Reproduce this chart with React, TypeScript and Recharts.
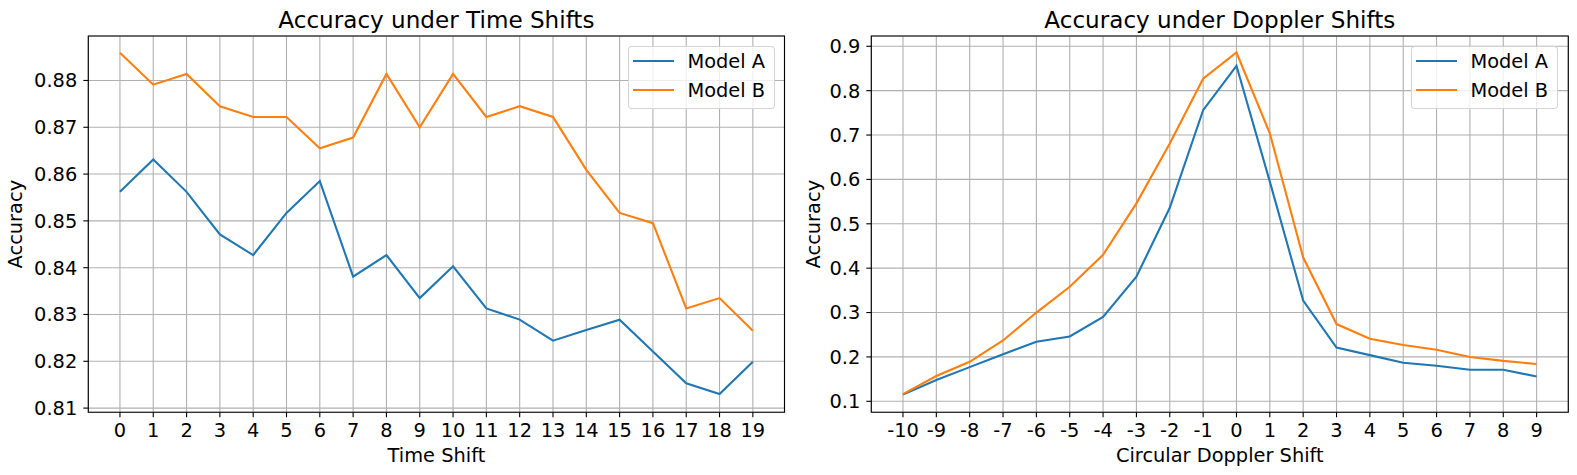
import React from 'react';
import { LineChart, Line, XAxis, YAxis, CartesianGrid, ReferenceArea, Legend, Label } from 'recharts';

const FONT = '"DejaVu Sans", sans-serif';
const BLUE = '#1f77b4';
const ORANGE = '#ff7f0e';
const TICK_FS = 19.4;
const TITLE_FS = 23.1;

// ---- Left panel: time shifts ----
const timeShifts = [0, 1, 2, 3, 4, 5, 6, 7, 8, 9, 10, 11, 12, 13, 14, 15, 16, 17, 18, 19];
const timeModelA = [0.8562, 0.8631, 0.8562, 0.8471, 0.8427, 0.8517, 0.8585, 0.8381, 0.8427, 0.8335,
  0.8403, 0.8313, 0.8289, 0.8244, 0.8267, 0.8289, 0.8221, 0.8153, 0.8130, 0.8199];
const timeModelB = [0.8859, 0.8791, 0.8814, 0.8745, 0.8722, 0.8722, 0.8655, 0.8678, 0.8814, 0.8700,
  0.8814, 0.8722, 0.8745, 0.8722, 0.8609, 0.8517, 0.8495, 0.8313, 0.8335, 0.8265];
const timeYTicks = [0.81, 0.82, 0.83, 0.84, 0.85, 0.86, 0.87, 0.88];

// ---- Right panel: Doppler shifts ----
const dopplerShifts = [-10, -9, -8, -7, -6, -5, -4, -3, -2, -1, 0, 1, 2, 3, 4, 5, 6, 7, 8, 9];
const dopplerModelA = [0.115, 0.148, 0.177, 0.206, 0.234, 0.246, 0.290, 0.381, 0.536, 0.756,
  0.856, 0.595, 0.327, 0.221, 0.204, 0.187, 0.180, 0.171, 0.171, 0.156];
const dopplerModelB = [0.116, 0.157, 0.189, 0.237, 0.300, 0.358, 0.430, 0.546, 0.681, 0.827,
  0.886, 0.704, 0.424, 0.274, 0.241, 0.227, 0.216, 0.200, 0.191, 0.184];
const dopplerYTicks = [0.1, 0.2, 0.3, 0.4, 0.5, 0.6, 0.7, 0.8, 0.9];

const seriesNames = ['Model A', 'Model B'];

const timeData = timeShifts.map((x, i) => ({ x, a: timeModelA[i], b: timeModelB[i] }));
const dopplerData = dopplerShifts.map((x, i) => ({ x, a: dopplerModelA[i], b: dopplerModelB[i] }));

const LegendBox = (props: any) => {
  const items = props.payload || [];
  return (
    <div
      style={{
        boxSizing: 'border-box',
        width: '100%',
        height: '100%',
        background: 'rgba(255,255,255,0.8)',
        border: '1.1px solid rgba(204,204,204,0.85)',
        borderRadius: 4,
      }}
    >
      {items.map((it: any) => (
        <div key={it.value} style={{ display: 'flex', alignItems: 'center', height: 29 }}>
          <div style={{ marginLeft: 4.6, width: 40.7, height: 2.1, background: it.color }} />
          <span
            style={{
              marginLeft: 13.5,
              fontSize: TICK_FS,
              fontFamily: FONT,
              color: '#000',
              lineHeight: '29px',
              whiteSpace: 'nowrap',
            }}
          >
            {it.value}
          </span>
        </div>
      ))}
    </div>
  );
};

type PanelProps = {
  data: any[];
  xTicks: number[];
  xDomain: [number, number];
  yTicks: number[];
  yDomain: [number, number];
  yDigits: number;
  width: number;
  yAxisWidth: number;
  rightMargin: number;
  title: string;
  xLabel: string;
  yLabelX: number;
  legendLeft: number;
};

const HEIGHT = 475;
const PLOT_TOP = 36;
const PLOT_BOTTOM = 412.3;

function Panel(p: PanelProps) {
  const plotLeft = p.yAxisWidth;
  const plotRight = p.width - p.rightMargin;
  const cx = (plotLeft + plotRight) / 2;
  const cy = (PLOT_TOP + PLOT_BOTTOM) / 2;
  const tickStyle = { fill: '#000', fontSize: TICK_FS, fontFamily: FONT };
  return (
    <LineChart
      width={p.width}
      height={HEIGHT}
      data={p.data}
      margin={{ top: PLOT_TOP, right: p.rightMargin, bottom: 0, left: 0 }}
    >
      <CartesianGrid stroke="#b0b0b0" strokeWidth={1.1} />
      <XAxis
        type="number"
        dataKey="x"
        domain={p.xDomain}
        ticks={p.xTicks}
        interval={0}
        allowDataOverflow
        height={HEIGHT - PLOT_BOTTOM}
        axisLine={false}
        tickLine={{ stroke: '#000', strokeWidth: 1.1 }}
        tickSize={5}
        tickMargin={6}
        tick={tickStyle}
        tickFormatter={(v: number) => String(v)}
      >
        <Label
          content={() => (
            <text x={cx} y={461.7} textAnchor="middle" fontSize={TICK_FS} fontFamily={FONT} fill="#000">
              {p.xLabel}
            </text>
          )}
        />
        <Label
          content={() => (
            <text x={cx} y={27.9} textAnchor="middle" fontSize={TITLE_FS} fontFamily={FONT} fill="#000">
              {p.title}
            </text>
          )}
        />
      </XAxis>
      <YAxis
        type="number"
        domain={p.yDomain}
        ticks={p.yTicks}
        interval={0}
        allowDataOverflow
        width={p.yAxisWidth}
        axisLine={false}
        tickLine={{ stroke: '#000', strokeWidth: 1.1 }}
        tickSize={5}
        tickMargin={6}
        tick={tickStyle}
        tickFormatter={(v: number) => v.toFixed(p.yDigits)}
      >
        <Label
          content={() => (
            <text
              x={p.yLabelX}
              y={cy}
              textAnchor="middle"
              fontSize={TICK_FS}
              fontFamily={FONT}
              fill="#000"
              transform={`rotate(-90 ${p.yLabelX} ${cy})`}
            >
              Accuracy
            </text>
          )}
        />
      </YAxis>
      <Line
        type="linear"
        dataKey="a"
        name={seriesNames[0]}
        stroke={BLUE}
        strokeWidth={2.1}
        dot={false}
        activeDot={false}
        isAnimationActive={false}
      />
      <Line
        type="linear"
        dataKey="b"
        name={seriesNames[1]}
        stroke={ORANGE}
        strokeWidth={2.1}
        dot={false}
        activeDot={false}
        isAnimationActive={false}
      />
      <ReferenceArea
        x1={p.xDomain[0]}
        x2={p.xDomain[1]}
        y1={p.yDomain[0]}
        y2={p.yDomain[1]}
        fill="none"
        fillOpacity={0}
        stroke="#000"
        strokeWidth={1.1}
        ifOverflow="visible"
      />
      <Legend
        layout="vertical"
        align="center"
        verticalAlign="middle"
        content={LegendBox}
        wrapperStyle={{ position: 'absolute', left: p.legendLeft, top: 45.7, width: 147.6, height: 63.3 }}
      />
    </LineChart>
  );
}

export default function App() {
  return (
    <div style={{ position: 'absolute', left: 0, top: 0, width: 1577, height: 475, background: '#fff' }}>
      <div style={{ position: 'absolute', left: 0, top: 0 }}>
        <Panel
          data={timeData}
          xTicks={timeShifts}
          xDomain={[-0.95, 19.95]}
          yTicks={timeYTicks}
          yDomain={[0.8091, 0.8895]}
          yDigits={2}
          width={790}
          yAxisWidth={88.3}
          rightMargin={5.5}
          title="Accuracy under Time Shifts"
          xLabel="Time Shift"
          yLabelX={22.2}
          legendLeft={627.7}
        />
      </div>
      <div style={{ position: 'absolute', left: 790, top: 0 }}>
        <Panel
          data={dopplerData}
          xTicks={dopplerShifts}
          xDomain={[-10.95, 9.95]}
          yTicks={dopplerYTicks}
          yDomain={[0.0752, 0.9232]}
          yDigits={1}
          width={787}
          yAxisWidth={81.3}
          rightMargin={8.7}
          title="Accuracy under Doppler Shifts"
          xLabel="Circular Doppler Shift"
          yLabelX={29.7}
          legendLeft={620.7}
        />
      </div>
    </div>
  );
}
